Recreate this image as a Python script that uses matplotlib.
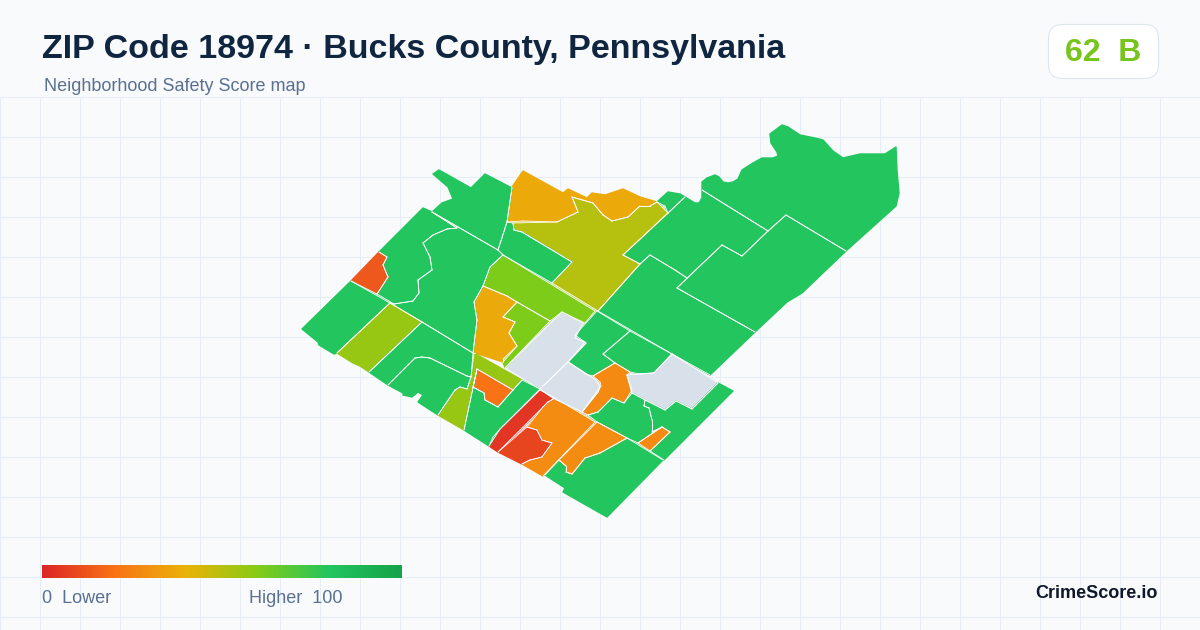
import numpy as np
from matplotlib import pyplot as plt
from matplotlib.collections import LineCollection, PolyCollection
from matplotlib.colors import LinearSegmentedColormap
from matplotlib.patches import FancyBboxPatch
from matplotlib.path import Path

plt.rcParams['font.family'] = ['Liberation Sans', 'DejaVu Sans']

TITLE = "ZIP Code 18974 · Bucks County, Pennsylvania"
SUBTITLE = "Neighborhood Safety Score map"
SCORE_TEXT = "62  B"
BRAND = "CrimeScore.io"
LEGEND_LOW = "0  Lower"
LEGEND_HIGH = "Higher  100"

# score scale
scale_stops = [0.0, 0.2, 0.4, 0.6, 0.8, 1.0]
scale_colors = ["#dc2626", "#f97316", "#eab308", "#84cc16", "#22c55e", "#16a34a"]

# tract outlines, in image pixels
ne_top = [(702,182),(707,178),(715,175),(719,177),(723,182),(728,183),(733,182),(738,179),(742,170),(753,163),
          (762,158),(773,158),(778,156),(777,152),(771,143),(770,134),(782,125),(788,127),(800,135),(815,138),
          (823,140),(833,151),(843,158),(860,154),(885,154),(896,147),(897,170),(899,193),(896,206),(846,251),
          (786,215),(768,231),(702,190)]
ne_mid = [(786,215),(846,251),(802,293),(787,302),(755,332),(677,288),(722,245),(742,256),(768,231)]
ne_west = [(668,213),(685,197),(695,203),(699,203),(702,198),(702,190),(768,231),(742,256),(722,245),(687,278),
           (675,270),(650,255),(640,264),(623,255)]
ne_sliver = [(657,202),(668,192),(680,194),(685,197),(668,213),(665,206)]
ne_low = [(640,264),(650,255),(675,270),(687,278),(677,288),(755,332),(710,375),(672,354),(598,311)]
east_inner = [(630,331),(603,354),(615,363),(630,372),(640,374),(654,373),(672,354)]
east_outer = [(597,311),(630,331),(603,354),(615,363),(593,376),(585,374),(583,372),(568,362),(585,342),(575,335)]
east_orange = [(615,363),(630,372),(627,375),(632,390),(624,403),(612,398),(598,412),(588,415),(582,412),(592,398),
               (601,386),(600,382),(593,376)]
grey_east = [(672,354),(718,383),(692,409),(676,401),(665,410),(632,393),(627,375),(640,374),(654,373)]
se_left = [(632,393),(645,400),(644,406),(649,408),(652,420),(652,432),(662,427),(638,443),(627,438),(597,422),
           (588,415),(598,412),(612,398),(624,403)]
se_right = [(645,400),(665,410),(676,401),(692,409),(718,383),(733,391),(664,460),(650,451),(670,432),(662,427),
            (652,432),(652,420),(649,408),(644,406)]
se_orange = [(638,443),(662,427),(670,432),(650,451)]
south = [(627,438),(600,453),(585,458),(572,474),(566,472),(566,466),(559,460),(545,475),(565,488),(563,492),
         (607,517),(663,460)]
south_orange = [(597,422),(627,438),(600,453),(585,458),(572,474),(566,472),(566,466),(559,460)]
mid_orange = [(555,398),(595,422),(543,476),(522,464),(530,460),(542,457),(552,443),(542,440),(537,430),(527,427),
              (543,407),(548,402)]
red_strip = [(540,390),(555,398),(548,402),(543,407),(498,452),(489,446),(493,437),(500,429)]
red_block = [(527,427),(537,430),(542,440),(552,443),(542,457),(530,460),(522,464),(498,452)]
grey_mid = [(568,362),(585,373),(596,380),(600,387),(598,392),(582,412),(553,398),(540,389)]
grey_north = [(562,312),(583,323),(575,338),(586,343),(568,362),(540,389),(505,368)]
lime_band = [(503,255),(595,311),(585,323),(562,312),(550,321),(517,302),(507,296),(483,286),(490,267)]
lime_inner = [(517,302),(550,321),(505,368),(503,362),(517,346),(509,333),(515,322),(503,317)]
amber_west = [(483,286),(507,296),(517,302),(503,317),(515,322),(509,333),(517,346),(503,359),(503,362),(475,353),
              (473,353),(477,320),(474,302)]
olive_strip = [(474,353),(522,380),(513,390),(477,369),(464,430),(438,415),(455,390),(460,387),(467,389),(471,377)]
orange_block = [(477,369),(513,390),(498,407),(485,400),(484,393),(473,387)]
green_center = [(522,380),(540,389),(500,429),(489,446),(464,430),(477,369),(473,387),(484,393),(485,400),(498,407),(513,390)]
olive_big = [(513,223),(557,222),(578,212),(572,197),(593,203),(603,215),(612,221),(628,217),(640,206),(650,206),
             (657,202),(668,213),(623,255),(640,264),(598,311),(552,283),(572,262),(522,232),(514,230)]
green_pocket = [(507,222),(513,223),(514,230),(522,232),(572,262),(552,283),(503,255),(498,250)]
amber_north = [(507,222),(512,187),(523,171),(563,193),(568,189),(587,198),(592,193),(605,195),(623,189),(640,197),
               (657,202),(650,206),(640,206),(628,217),(612,221),(603,215),(593,203),(572,197),(578,212),(557,222),(523,221)]
north_chimney = [(432,212),(442,203),(453,199),(448,187),(433,174),(439,170),(471,188),(485,174),(512,188),(507,222),(498,250)]
west_upper = [(423,208),(432,212),(457,228),(447,229),(433,235),(423,243),(430,257),(432,270),(418,280),(419,293),
              (413,301),(394,304),(377,294),(388,277),(383,265),(387,257),(379,252)]
west_red = [(379,252),(387,257),(383,265),(388,277),(377,294),(351,281)]
west_center = [(432,212),(457,228),(447,229),(433,235),(423,243),(430,257),(432,270),(418,280),(419,293),(413,301),
               (394,304),(390,303),(422,322),(473,353),(477,320),(474,302),(483,286),(490,267),(503,255),(498,250)]
west_corner = [(351,281),(390,303),(337,353),(334,354),(319,345),(318,342),(302,329)]
olive_west = [(390,303),(422,322),(369,372),(360,366),(353,363),(337,353)]
sw_upper = [(422,322),(473,353),(471,377),(467,376),(430,358),(422,357),(415,358),(388,385),(369,372)]
sw_lower = [(388,385),(415,358),(422,357),(430,358),(467,376),(471,377),(467,389),(460,387),(455,390),(438,415),
            (418,402),(423,395),(418,392),(412,397),(403,395),(403,393)]

tract_shapes = [ne_top, ne_mid, ne_west, ne_sliver, ne_low, east_inner, east_outer, east_orange, grey_east,
                se_left, se_right, se_orange, south, south_orange, mid_orange, red_strip, red_block, grey_mid,
                grey_north, lime_band, lime_inner, amber_west, olive_strip, orange_block, green_center, olive_big,
                green_pocket, amber_north, north_chimney, west_upper, west_red, west_center, west_corner,
                olive_west, sw_upper, sw_lower]
# nan means no score (grey)
tract_scores = [80, 80, 80, 80, 80, 80, 80, 27, np.nan,
                80, 80, 27, 80, 28, 28, 4, 8, np.nan,
                np.nan, 61, 61, 37, 56, 20, 80, 50,
                80, 37, 80, 80, 13, 80, 80,
                56, 80, 80]

BG = "#f8fafc"
GRID = "#e6edf4"


def inner_edges(shapes, probe=3.0):
    # only edges with a tract on both sides get a white border, the outer boundary stays clean
    paths = [Path(s + s[:1]) for s in shapes]
    edges = []
    for s in shapes:
        for a, b in zip(s, s[1:] + s[:1]):
            a_, b_ = np.array(a, float), np.array(b, float)
            d = b_ - a_
            n = np.array([-d[1], d[0]]) / np.hypot(*d)
            mid = (a_ + b_) / 2
            left = any(p.contains_point(mid + n * probe) for p in paths)
            right = any(p.contains_point(mid - n * probe) for p in paths)
            if left and right:
                edges.append([a, b])
    return edges


fig = plt.figure(figsize=(12, 6.3), dpi=100, facecolor=BG)
ax = fig.add_axes([0, 0, 1, 1])
ax.set_xlim(0, 1200)
ax.set_ylim(630, 0)
ax.axis("off")

for x in range(0, 1200, 40):
    ax.plot([x + 0.2, x + 0.2], [97, 630], color=GRID, lw=0.72, zorder=1)
for y in range(97, 630, 40):
    ax.plot([0, 1200], [y, y], color=GRID, lw=0.72, zorder=1)

cmap = LinearSegmentedColormap.from_list("safety", list(zip(scale_stops, scale_colors)))
cmap.set_bad("#d8e0e9")

# same-colour edge closes the small gaps between traced outlines
scores = np.ma.masked_invalid(tract_scores)
fill = PolyCollection(tract_shapes, array=scores, cmap=cmap, clim=(0, 100), edgecolors="face", linewidths=1.0, zorder=2)
ax.add_collection(fill)
ax.add_collection(LineCollection(inner_edges(tract_shapes), colors="white", linewidths=0.6, capstyle="round", zorder=3))

gradient = np.linspace(0, 1, 360).reshape(1, -1)
ax.imshow(gradient, cmap=cmap, extent=(42, 402, 578, 565), aspect="auto", zorder=3)
ax.set_xlim(0, 1200)
ax.set_ylim(630, 0)

ax.text(42, 49.5, TITLE, fontsize=24.5, fontweight="bold", color="#0f2540", va="center", zorder=4)
ax.text(44, 86.5, SUBTITLE, fontsize=12.95, color="#5a7090", va="center", zorder=4)

badge = FancyBboxPatch((1048.5, 24.5), 110, 54, boxstyle="round,pad=0,rounding_size=14",
                       facecolor="white", edgecolor="#dde5ef", lw=0.8, zorder=4)
ax.add_patch(badge)
ax.text(1103, 53, SCORE_TEXT, fontsize=23, fontweight="bold", color="#76c41c", ha="center", va="center", zorder=5)

ax.text(42, 598.5, LEGEND_LOW, fontsize=12.95, color="#5a7090", va="center", zorder=4)
ax.text(249, 598.5, LEGEND_HIGH, fontsize=12.95, color="#5a7090", va="center", zorder=4)
ax.text(1158, 593, BRAND, fontsize=13, fontweight="bold", color="#0f172a", ha="right", va="center", zorder=4)

fig.savefig("out.png", dpi=100, facecolor=BG)
